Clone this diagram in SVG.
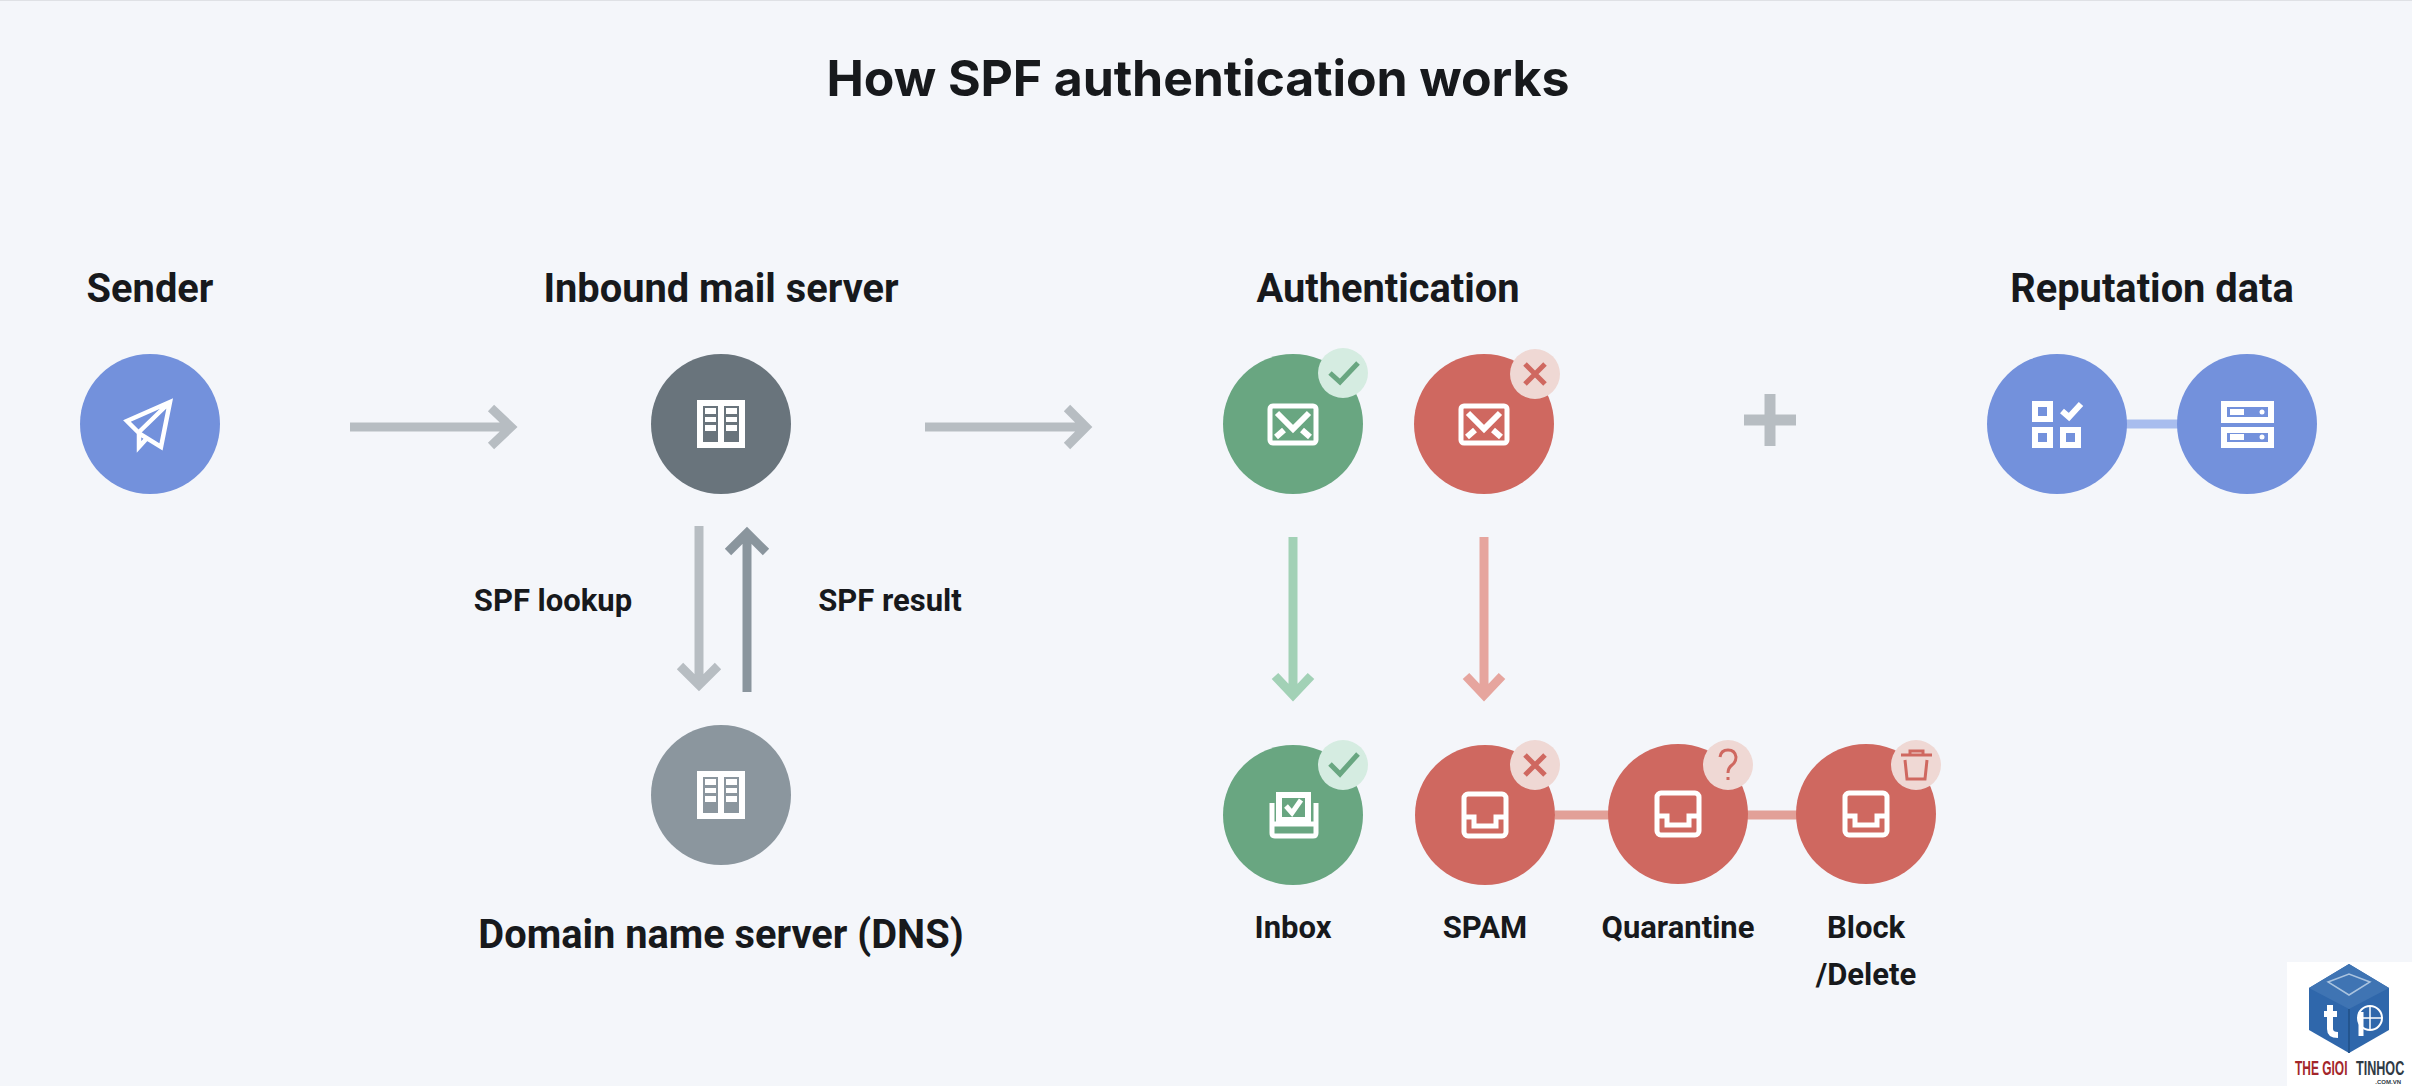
<svg xmlns="http://www.w3.org/2000/svg" width="2412" height="1086" viewBox="0 0 2412 1086">
<style>
text{font-family:Roboto,"Liberation Sans",sans-serif;font-weight:700;fill:#17191c;text-anchor:middle}
.title{font-family:Inter,"Liberation Sans",sans-serif;font-size:50px;letter-spacing:-.1px}
.h{font-size:39.800px}
.s{font-size:31px}
.ln{fill:none;stroke-width:9}
.ic{fill:none;stroke:#fff;stroke-width:5}
.ib{fill:none;stroke:#fff;stroke-width:6}
.icf{fill:#fff}
.blue{fill:#7391dc}.green{fill:#69a681}.red{fill:#cf6860}
.bg{fill:#d5ece1}.br{fill:#efd8d4}
.gm{fill:none;stroke:#69a681;stroke-width:5}
.rm{fill:none;stroke:#cf6860;stroke-width:5}
.lg{font-family:"Liberation Sans",sans-serif;font-size:21px;text-anchor:start}
</style>
<defs>
<g id="book"><rect x="-21" y="-21" width="42" height="42" class="ib"/><path d="M0-21V21" class="ib"/><path class="icf" d="M-16-16h11v6h-11zM5-16h11v6H5zM-16-7h11v5h-11zM5-7h11v5H5zM-16 1h11v6h-11zM5 1h11v6H5z"/></g>
<g id="mail"><rect x="-23" y="-18" width="46" height="37" rx="3" class="ic"/><path d="M-16-11L0 5 16-11" class="ic" style="stroke-width:6"/><path d="M-17 13l8-7M17 13l-8-7" class="ic" style="stroke-width:6"/></g>
<g id="tray"><rect x="-21" y="-21" width="42" height="42" rx="4" class="ic"/><path d="M-21 2h10v9h22V2h10" class="ic"/></g>
</defs>
<rect width="2412" height="1086" fill="#f4f6fa"/>
<rect width="2412" height="1" fill="#dfe1e5"/>
<text class="title" x="1198" y="96">How SPF authentication works</text>
<g id="connectors">
<path class="ln" stroke="#b7bdc2" d="M350 427H511M491 408l20 19-20 19"/>
<path class="ln" stroke="#b7bdc2" d="M925 427H1086M1067 408l19 19-19 19"/>
<path class="ln" stroke="#b7bdc2" d="M699 526V686M680 666l19 19 19-19"/>
<path class="ln" stroke="#8a959d" d="M747 692V532M728 552l19-19 19 19"/>
<path class="ln" stroke="#a2d1b6" d="M1293 537V696M1275 676l18 19 18-19"/>
<path class="ln" stroke="#e6a59e" d="M1484 537V696M1466 676l18 19 18-19"/>
<path class="ln" stroke="#e2a098" d="M1555 815H1866"/>
<path class="ln" stroke="#a8bdee" d="M2120 424H2190"/>
</g>
<g id="sender"><text class="h" x="150" y="302">Sender</text><circle class="blue" cx="150" cy="424" r="70"/>
<path d="M170 402l-43 19 13 13 21 13zM139 432v15l9-10M170 402l-31 30" class="ic" style="stroke-width:4.500"/></g>
<g id="inbound"><text class="h" x="721" y="302">Inbound mail server</text><circle cx="721" cy="424" r="70" fill="#69747c"/><use href="#book" x="721" y="424"/></g>
<g id="dns"><circle cx="721" cy="795" r="70" fill="#8b969e"/><use href="#book" x="721" y="795"/><text class="h" x="721" y="948">Domain name server (DNS)</text></g>
<text class="s" x="553" y="611">SPF lookup</text>
<text class="s" x="890" y="611">SPF result</text>
<g id="authentication"><text class="h" x="1388" y="302">Authentication</text></g>
<g id="auth-pass"><circle class="green" cx="1293" cy="424" r="70"/><use href="#mail" x="1293" y="424"/><circle class="bg" cx="1343" cy="373" r="25"/><path d="M1330 373l10 9 18-19" class="gm"/></g>
<g id="auth-fail"><circle class="red" cx="1484" cy="424" r="70"/><use href="#mail" x="1484" y="424"/><circle class="br" cx="1535" cy="374" r="25"/><path d="M1525 364l20 20M1545 364l-20 20" class="rm"/></g>
<g id="plus"><path d="M1770 394V446M1744 420H1796" fill="none" stroke="#b7bdc2" stroke-width="11"/></g>
<g id="rep1"><text class="h" x="2152" y="302">Reputation data</text><circle class="blue" cx="2057" cy="424" r="70"/>
<path class="ib" d="M2035 404h15v15h-15zM2035 430h15v15h-15zM2063 430h15v15h-15z"/><path d="M2062 411l7 6 12-13" class="ib"/></g>
<g id="rep2"><circle class="blue" cx="2247" cy="424" r="70"/>
<rect x="2224" y="404" width="47" height="16" class="ib"/><rect x="2224" y="430" width="47" height="15" class="ib"/><path class="icf" d="M2230 409h14v6h-14zM2230 434h14v6h-14z"/><circle class="icf" cx="2262" cy="412" r="2.500"/><circle class="icf" cx="2262" cy="437" r="2.500"/></g>
<g id="inbox"><circle class="green" cx="1293" cy="815" r="70"/><circle class="bg" cx="1343" cy="765" r="25"/><path d="M1330 764l10 10 18-20" class="gm"/>
<path class="ic" d="M1272 803v30q0 3 3 3h38q3 0 3-3v-30M1272 824h44"/><rect x="1279" y="795" width="29" height="25" class="ib"/><path d="M1286 806l6 7 9-13" class="ic"/>
<text class="s" x="1293" y="938">Inbox</text></g>
<g id="spam"><circle class="red" cx="1485" cy="815" r="70"/><use href="#tray" x="1485" y="815"/><circle class="br" cx="1535" cy="765" r="25"/><path d="M1525 755l20 20M1545 755l-20 20" class="rm"/><text class="s" x="1485" y="938">SPAM</text></g>
<g id="quarantine"><circle class="red" cx="1678" cy="814" r="70"/><use href="#tray" x="1678" y="814"/><circle class="br" cx="1728" cy="765" r="25"/><path d="M1720 757q1-7 8-7t8 7q0 5-4 8t-4 8M1728 777v3" class="rm" style="stroke-width:3"/><text class="s" x="1678" y="938">Quarantine</text></g>
<g id="block"><circle class="red" cx="1866" cy="814" r="70"/><use href="#tray" x="1866" y="814"/><circle class="br" cx="1916" cy="765" r="25"/><path d="M1901 755h31M1910 755v-4h13v4M1905 760l2 19h18l2-19" class="rm" style="stroke-width:3"/><text class="s" x="1866" y="938">Block</text><text class="s" x="1866" y="985">/Delete</text></g>
<g id="logo"><rect x="2287" y="962" width="125" height="124" fill="#fff"/>
<path d="M2349 964l40 24v42l-40 23-40-23v-42z" fill="#2f67ab"/><path d="M2349 964l40 24-40 21-40-21z" fill="#3f74b3"/><path d="M2349 1009v44" stroke="#23558f" stroke-width="2"/>
<path d="M2328 982l21-8 21 8-21 13z" fill="none" stroke="#a9c3df" stroke-width="1.500"/>
<path d="M2330 1005v24q0 6 8 6M2324 1014h13" fill="none" stroke="#fff" stroke-width="6"/><circle cx="2370" cy="1018" r="12" fill="none" stroke="#fff" stroke-width="2"/><path d="M2370 1006v24M2358 1018h24" stroke="#fff" stroke-width="1.500"/><path d="M2361 1012v24" stroke="#fff" stroke-width="5"/>
<text class="lg" transform="translate(2295 1075) scale(.57 1)" style="fill:#a3262a">THE GIOI</text>
<text class="lg" transform="translate(2356 1075) scale(.6 1)" style="fill:#2f3a45">TINHOC</text>
<text x="2401" y="1083.500" style="font-family:'Liberation Sans',sans-serif;font-size:6px;fill:#2f3a45;text-anchor:end">.COM.VN</text></g>
</svg>
